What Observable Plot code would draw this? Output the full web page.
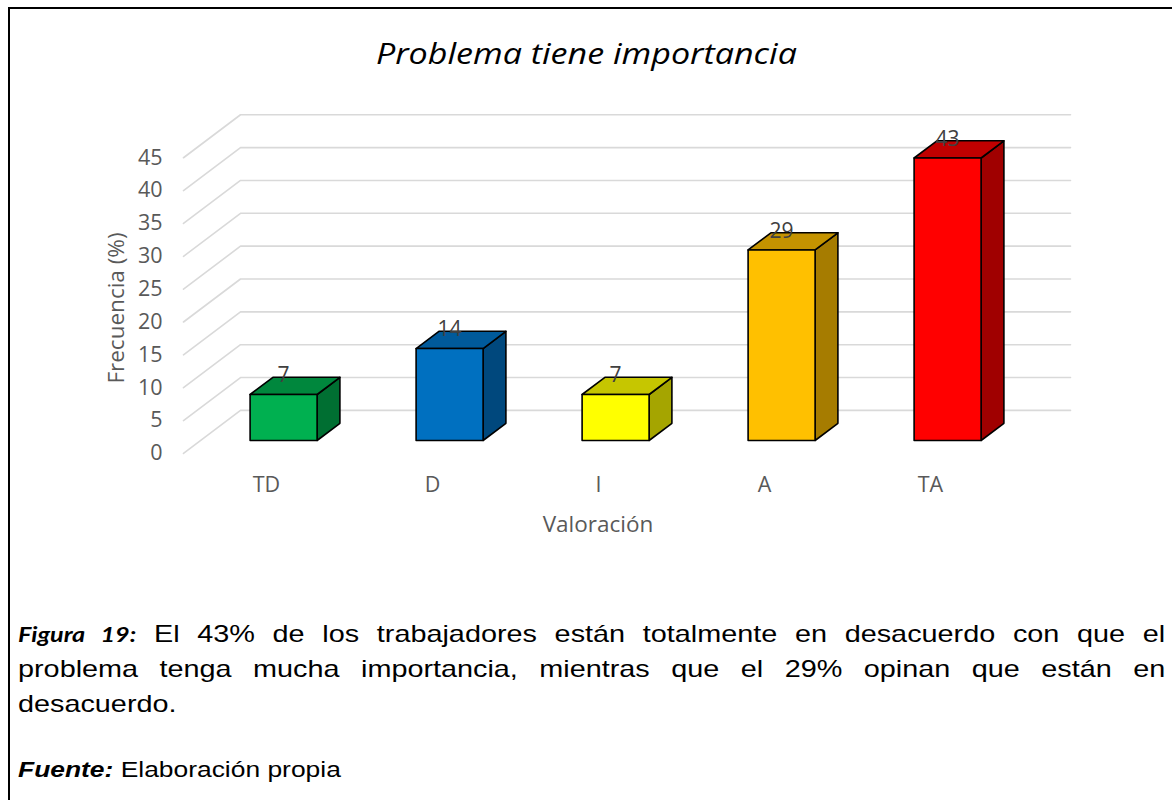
<!DOCTYPE html>
<html><head><meta charset="utf-8">
<script src="https://cdn.jsdelivr.net/npm/d3@7"></script>
<script src="https://cdn.jsdelivr.net/npm/@observablehq/plot@0.6"></script>
<style>
html,body{margin:0;padding:0;background:#fff;}
body{width:1172px;height:800px;position:relative;overflow:hidden;font-family:"Liberation Sans",Arial,sans-serif;}
#frame{position:absolute;left:8px;top:7px;width:1164px;height:800px;border-left:2px solid #000;border-top:2px solid #000;box-sizing:border-box;}
#chart{position:absolute;left:0;top:0;}
#title{position:absolute;top:32px;left:0;width:1172px;text-align:center;font-family:"Open Sans";font-style:italic;font-size:30px;line-height:42px;color:#000;transform:scaleX(1.135);transform-origin:583px 50%;}
#ytitle{position:absolute;left:115px;top:308px;transform:translate(-50%,-50%) rotate(-90deg);white-space:nowrap;font-family:"Open Sans";font-size:22.5px;color:#595959;}
#xtitle{position:absolute;left:598px;top:523px;transform:translate(-50%,-50%);white-space:nowrap;font-family:"Open Sans";font-size:22.5px;color:#595959;}
.cap{position:absolute;left:18px;width:956px;font-family:"Liberation Sans",Arial,sans-serif;font-size:24px;line-height:35px;color:#000;transform:scaleX(1.2);transform-origin:0 0;white-space:nowrap;}
.just{text-align:justify;text-align-last:justify;white-space:normal;}
.fig{font-family:Lato,"Open Sans",sans-serif;font-weight:bold;font-style:italic;font-size:21px;}
#source{position:absolute;left:18px;top:755px;font-family:"Liberation Sans",Arial,sans-serif;font-size:22px;line-height:30px;transform:scaleX(1.2);transform-origin:0 0;white-space:nowrap;}
#source b{font-style:italic;}
</style>
</head><body>
<div id="frame"></div>
<div id="chart"></div>
<div id="title">Problema tiene importancia</div>
<div id="ytitle">Frecuencia (%)</div>
<div id="xtitle">Valoración</div>
<div class="cap just" style="top:616px"><span class="fig">Figura 19:</span> El 43% de los trabajadores están totalmente en desacuerdo con que el</div>
<div class="cap just" style="top:651px">problema tenga mucha importancia, mientras que el 29% opinan que están en</div>
<div class="cap" style="top:686px">desacuerdo.</div>
<div id="source"><b>Fuente:</b> Elaboración propia</div>
<script>
const categories = ["TD", "D", "I", "A", "TA"];
const values = [7, 14, 7, 29, 43];
const frontColors = ["#00B050", "#0070C0", "#FFFF00", "#FFC000", "#FF0000"];
const topColors = ["#00873D", "#005A9B", "#C6C600", "#C49300", "#C00000"];
const sideColors = ["#006F32", "#00487D", "#A5A500", "#A67C00", "#A00000"];
const yTicks = [0, 5, 10, 15, 20, 25, 30, 35, 40, 45];

// pseudo-3D depth, expressed in data units
const DX = 0.3434, DY = 6.545;   // full floor depth
const Z0 = 0.3, Z1 = 0.7;        // bar front / back depth
const W = 0.4036;                // bar front width (category units)

const grid = yTicks.flatMap(t => [
  {t, x: 0, y: t},
  {t, x: DX, y: t + DY},
  {t, x: categories.length + DX, y: t + DY}
]);

const barMarks = [];
values.forEach((v, i) => {
  const xl = i + 0.5 - W / 2 + Z0 * DX, xr = xl + W;
  const y0 = Z0 * DY, yv = v + Z0 * DY;
  const bx = (Z1 - Z0) * DX, by = (Z1 - Z0) * DY;
  const front = [[xl, y0], [xr, y0], [xr, yv], [xl, yv]];
  const top = [[xl, yv], [xr, yv], [xr + bx, yv + by], [xl + bx, yv + by]];
  const side = [[xr, y0], [xr + bx, y0 + by], [xr + bx, yv + by], [xr, yv]];
  [[side, sideColors[i]], [top, topColors[i]], [front, frontColors[i]]].forEach(([pts, c]) => {
    barMarks.push(Plot.line(pts, {x: d => d[0], y: d => d[1], curve: "linear-closed", fill: c, stroke: "#000", strokeWidth: 1.6, strokeLinejoin: "round"}));
  });
});

const chart = Plot.plot({
  width: 1172,
  height: 560,
  marginLeft: 183,
  marginRight: 159,
  marginTop: 124.4,
  marginBottom: 107.1,
  x: {domain: [0, 5], range: [183, 1013], axis: null},
  y: {domain: [0, 50], range: [452.9, 124.4], axis: null},
  style: {fontFamily: "Open Sans", background: "transparent"},
  marks: [
    Plot.line(grid, {x: "x", y: "y", z: "t", stroke: "#d9d9d9", strokeWidth: 1.6}),
    Plot.text(yTicks, {x: 0, y: d => d, text: d => String(d), textAnchor: "end", dx: -21, fontSize: 21.5, fill: "#595959"}),
    Plot.text(categories, {x: (d, i) => i + 0.5, y: 0, text: d => d, dy: 32, fontSize: 21.5, fill: "#595959"}),
    ...barMarks,
    Plot.text(values, {x: (d, i) => i + 0.5 + Z0 * DX, y: d => d + Z1 * DY, text: d => String(d), lineAnchor: "bottom", dy: 5, fontSize: 21, fill: "#404040"})
  ]
});
document.getElementById("chart").appendChild(chart);
</script>
</body></html>
